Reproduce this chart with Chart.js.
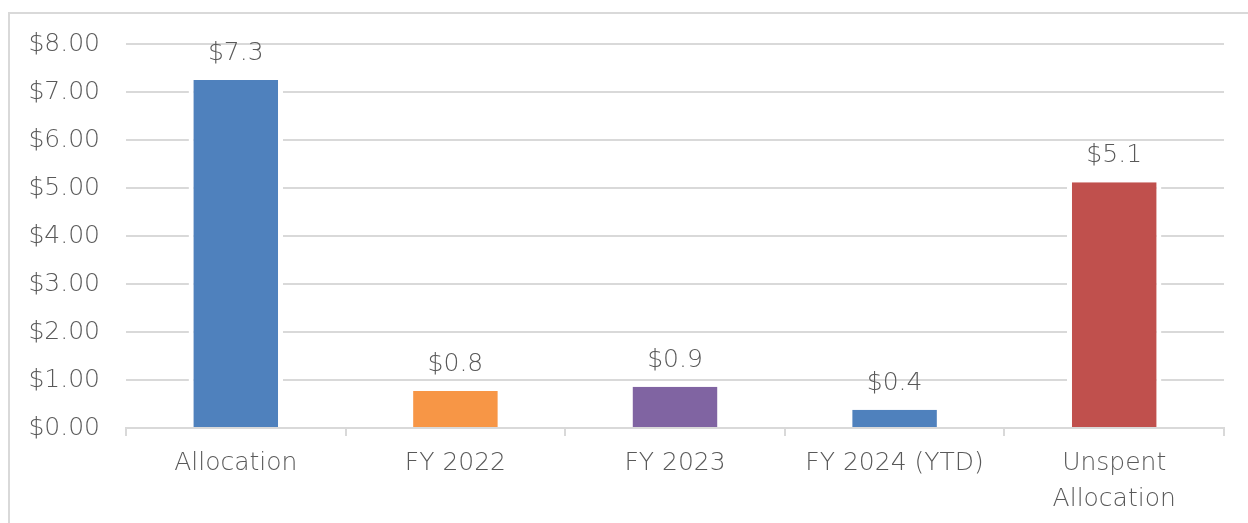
<!DOCTYPE html>
<html>
<head>
<meta charset="utf-8">
<script src="https://cdn.jsdelivr.net/npm/chart.js@4"></script>
<style>
  html, body { margin: 0; padding: 0; background: #fff; overflow: hidden; }
  #frame { position: absolute; left: 8px; top: 12px; width: 1300px; height: 600px; border: 2px solid #d9d9d9; }
  #wrap { position: absolute; left: 0; top: 0; width: 1248px; height: 523px; }
</style>
</head>
<body>
<div id="frame"></div>
<div id="wrap"><canvas id="spendChart" width="1248" height="523"></canvas></div>
<script>
var categories = ['Allocation', 'FY 2022', 'FY 2023', 'FY 2024 (YTD)', ['Unspent', 'Allocation']];
var amounts = [7.25, 0.77, 0.86, 0.38, 5.12];
var barColors = ['#4f81bd', '#f79646', '#8064a2', '#4f81bd', '#c0504d'];
var yTicks = [0, 1, 2, 3, 4, 5, 6, 7, 8];

var textColor = '#595959';
var fontFamily = '"DejaVu Sans", sans-serif';

// dollar labels above each bar
var valueLabels = {
    id: 'valueLabels',
    afterDatasetsDraw: function(chart) {
        var ctx = chart.ctx;
        var meta = chart.getDatasetMeta(0);
        ctx.save();
        ctx.font = '200 25px ' + fontFamily;
        ctx.fillStyle = textColor;
        ctx.textAlign = 'center';
        ctx.textBaseline = 'bottom';
        meta.data.forEach(function(bar, i) {
            ctx.fillText('$' + amounts[i].toFixed(1), bar.x, bar.y - 14);
        });
        ctx.restore();
    }
};

var ctx = document.getElementById('spendChart').getContext('2d');
var spendChart = new Chart(ctx, {
    type: 'bar',
    data: {
        labels: categories,
        datasets: [{
            data: amounts,
            backgroundColor: barColors,
            borderColor: '#ffffff',
            borderWidth: { left: 5, right: 5, top: 0, bottom: 0 },
            borderSkipped: false,
            categoryPercentage: 1,
            barPercentage: 0.43
        }]
    },
    options: {
        responsive: false,
        animation: false,
        layout: { padding: { top: 44, right: 24, left: 0, bottom: 0 } },
        plugins: {
            legend: { display: false },
            tooltip: { enabled: false }
        },
        scales: {
            x: {
                grid: {
                    offset: true,
                    drawOnChartArea: false,
                    drawTicks: true,
                    tickLength: 8,
                    color: '#d9d9d9',
                    lineWidth: 2
                },
                border: { display: true, color: '#d9d9d9', width: 2 },
                ticks: {
                    color: textColor,
                    font: { family: fontFamily, size: 25, weight: '200', lineHeight: 1.44 },
                    padding: 9,
                    maxRotation: 0
                },
                afterFit: function(scale) { scale.height = 95; }
            },
            y: {
                min: 0,
                max: 8,
                afterBuildTicks: function(scale) {
                    scale.ticks = yTicks.map(function(v) { return { value: v }; });
                },
                grid: { color: '#d9d9d9', lineWidth: 2, drawTicks: false },
                border: { display: false },
                ticks: {
                    color: textColor,
                    font: { family: fontFamily, size: 25, weight: '200' },
                    padding: 26,
                    callback: function(v) { return '$' + Number(v).toFixed(2); }
                },
                afterFit: function(scale) { scale.width = 126; }
            }
        }
    },
    plugins: [valueLabels]
});
</script>
</body>
</html>
